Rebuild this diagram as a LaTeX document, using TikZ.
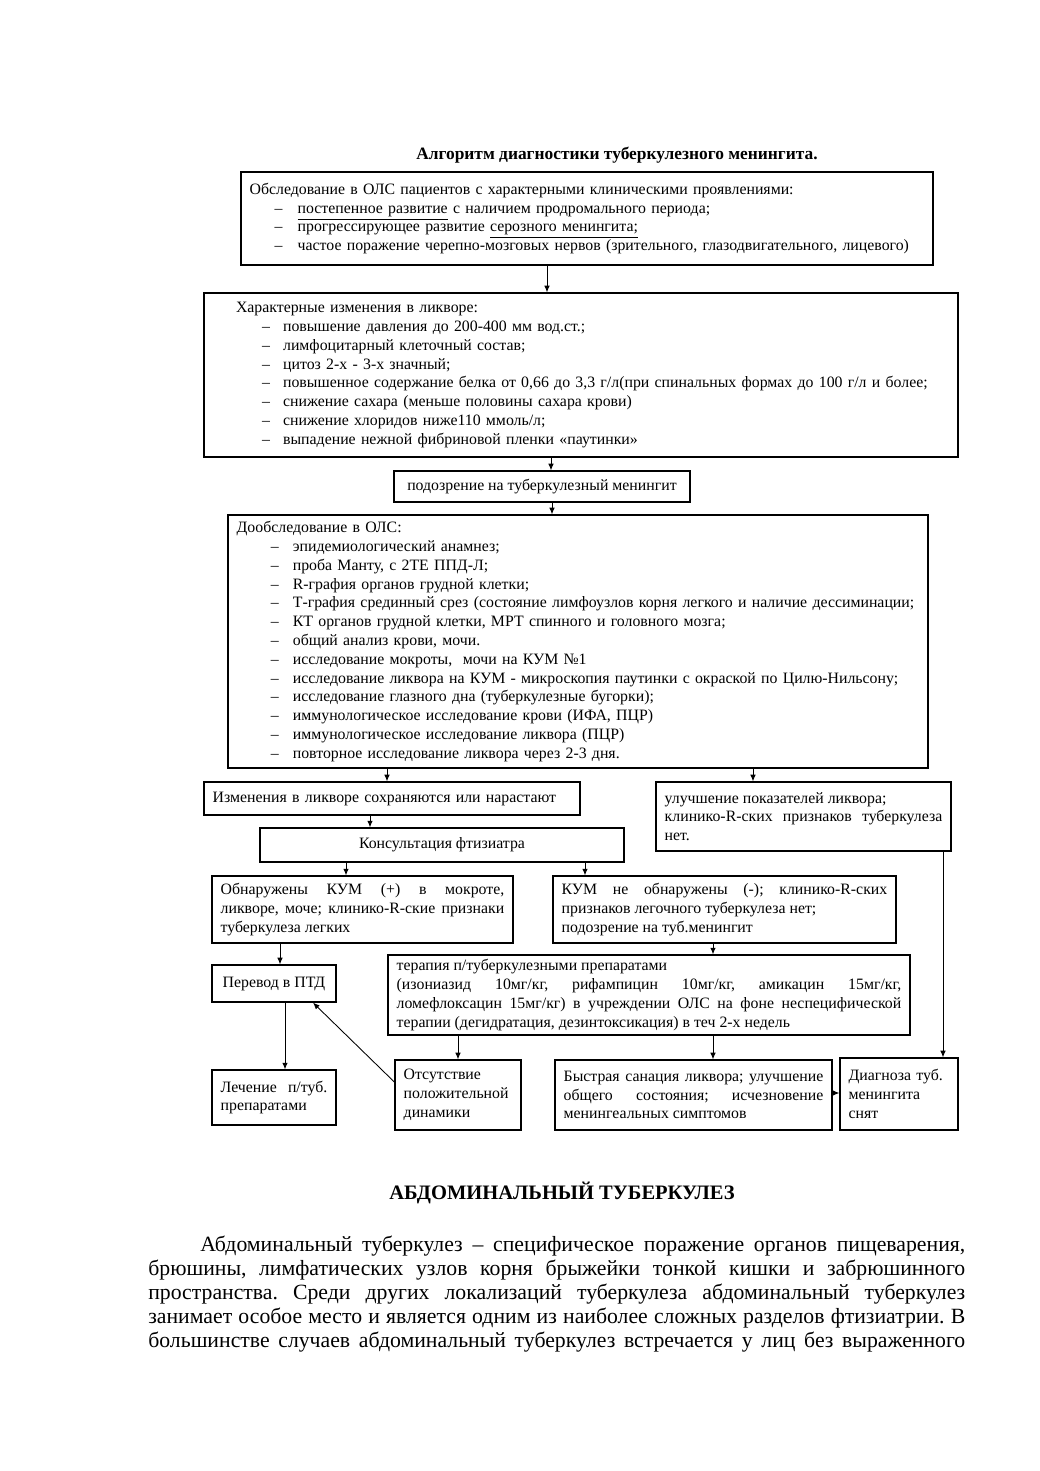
\documentclass[tikz,border=0pt]{standalone}
\usepackage{fontspec}
\setmainfont{Liberation Serif}
\usepackage{tikz}
\usetikzlibrary{arrows.meta}
\hyphenpenalty=10000
\exhyphenpenalty=10000
\frenchspacing
\newcommand\boxfont{\fontsize{9.1}{10.8}\selectfont}
\newlength\dashin
\newlength\dashw
\newcommand\dashrow[1]{\\\hspace*{\dashin}\makebox[\dashw][l]{–}#1}

\begin{document}
\begin{tikzpicture}[x=0.57508pt, y=-0.57508pt, >={Latex[length=3.8pt,width=3.2pt]},
  box/.style={draw, line width=0.75pt, inner xsep=5pt, inner ysep=0pt, font=\boxfont},
  arr/.style={->, line width=0.5pt}]
  \useasboundingbox (0,0) rectangle (1039,1471);
  \node[font=\fontsize{10}{12}\selectfont\bfseries] (title) at (617,155) {Алгоритм диагностики туберкулезного менингита.};
  \node[box, minimum width=397.95pt, minimum height=53.48pt, text width=387.95pt, align=left] (obsl) at (587,218.5)
    {\setlength\dashin{14.4pt}\setlength\dashw{13.2pt}Обследование в ОЛС пациентов с характерными клиническими проявлениями:
    \dashrow{\underline{постепенное развитие} с наличием продромального периода;}
    \dashrow{прогрессирующее развитие \underline{серозного менингита;}}
    \dashrow{частое поражение черепно-мозговых нервов (зрительного, глазодвигательного, лицевого)}};
  \node[box, minimum width=433.61pt, minimum height=94.31pt, text width=423.6pt, align=left] (likvor) at (581,375)
    {\setlength\dashin{28.4pt}\setlength\dashw{12.1pt}\hspace*{13.4pt}Характерные изменения в ликворе:
    \dashrow{повышение давления до 200-400 мм вод.ст.;}
    \dashrow{лимфоцитарный клеточный состав;}
    \dashrow{цитоз 2-х - 3-х значный;}
    \dashrow{повышенное содержание белка от 0,66 до 3,3 г/л(при спинальных формах до 100 г/л и более;}
    \dashrow{снижение сахара (меньше половины сахара крови)}
    \dashrow{снижение хлоридов ниже110 ммоль/л;}
    \dashrow{выпадение нежной фибриновой пленки «паутинки»}};
  \node[box, minimum width=170.22pt, minimum height=17.83pt] (podozr) at (542,486.5) {подозрение на туберкулезный менингит};
  \node[box, minimum width=402.56pt, minimum height=145.5pt, text width=392.56pt, align=left] (doobsl) at (578,641.5)
    {\setlength\dashin{19.6pt}\setlength\dashw{12.7pt}Дообследование в ОЛС:
    \dashrow{эпидемиологический анамнез;}
    \dashrow{проба Манту, с 2ТЕ ППД-Л;}
    \dashrow{R-графия органов грудной клетки;}
    \dashrow{Т-графия срединный срез (состояние лимфоузлов корня легкого и наличие дессиминации;}
    \dashrow{КТ органов грудной клетки, МРТ спинного и головного мозга;}
    \dashrow{общий анализ крови, мочи.}
    \dashrow{исследование мокроты,\ \ мочи на КУМ №1}
    \dashrow{исследование ликвора на КУМ - микроскопия паутинки с окраской по Цилю-Нильсону;}
    \dashrow{исследование глазного дна (туберкулезные бугорки);}
    \dashrow{иммунологическое исследование крови (ИФА, ПЦР)}
    \dashrow{иммунологическое исследование ликвора (ПЦР)}
    \dashrow{повторное исследование ликвора через 2-3 дня.}};
  \node[box, minimum width=216.23pt, minimum height=18.98pt, text width=206.23pt, align=left] (izmen) at (392,798.5)
    {Изменения в ликворе сохраняются или нарастают};
  \node[box, minimum width=169.65pt, minimum height=39.68pt, text width=159.65pt, align=justify] (uluch) at (803.5,816.5)
    {улучшение показателей ликвора;\newline клинико-R-ских признаков туберкулеза\linebreak нет.};
  \node[box, minimum width=209.33pt, minimum height=19.55pt] (konsult) at (442,845) {Консультация фтизиатра};
  \node[box, minimum width=173.1pt, minimum height=38.53pt, text width=163.1pt, align=justify] (kumplus) at (362.5,909.5)
    {Обнаружены КУМ (+) в мокроте,\linebreak ликворе, моче; клинико-R-ские признаки\linebreak туберкулеза легких};
  \node[box, minimum width=197.25pt, minimum height=38.53pt, text width=187.25pt, align=justify] (kumminus) at (724.5,909.5)
    {КУМ не обнаружены (-); клинико-R-ских\linebreak признаков легочного туберкулеза нет;\newline подозрение на туб.менингит};
  \node[box, minimum width=71.31pt, minimum height=21.28pt] (perevod) at (274,983.5) {Перевод в ПТД};
  \node[box, minimum width=300.19pt, minimum height=46pt, text width=290.19pt, align=justify] (terapia) at (649,995)
    {терапия п/туберкулезными препаратами\newline (изониазид 10мг/кг, рифампицин 10мг/кг, амикацин 15мг/кг,\linebreak ломефлоксацин 15мг/кг) в учреждении ОЛС на фоне неспецифической\linebreak терапии (дегидратация, дезинтоксикация) в теч 2-х недель};
  \node[box, minimum width=71.31pt, minimum height=31.63pt, text width=61.31pt, align=justify] (lechenie) at (274,1097.5)
    {Лечение п/туб.\linebreak препаратами};
  \node[box, minimum width=72.46pt, minimum height=40.26pt, text width=62.46pt, align=left] (otsut) at (458,1095)
    {Отсутствие\\ положительной\\ динамики};
  \node[box, minimum width=159.3pt, minimum height=40.26pt, text width=149.3pt, align=justify] (sanacia) at (693.5,1095)
    {Быстрая санация ликвора; улучшение\linebreak общего состояния; исчезновение\linebreak менингеальных симптомов};
  \node[box, minimum width=67.86pt, minimum height=41.41pt, text width=57.86pt, align=left] (snyat) at (899,1094)
    {Диагноза туб.\\ менингита\\ снят};
  \draw[arr] (547,0 |- obsl.south) -- (547,0 |- likvor.north);
  \draw[arr] (551,0 |- likvor.south) -- (551,0 |- podozr.north);
  \draw[arr] (552,0 |- podozr.south) -- (552,0 |- doobsl.north);
  \draw[arr] (387,0 |- doobsl.south) -- (387,0 |- izmen.north);
  \draw[arr] (753,0 |- doobsl.south) -- (753,0 |- uluch.north);
  \draw[arr] (370,0 |- izmen.south) -- (370,0 |- konsult.north);
  \draw[arr] (346,0 |- konsult.south) -- (346,0 |- kumplus.north);
  \draw[arr] (585,0 |- konsult.south) -- (585,0 |- kumminus.north);
  \draw[arr] (280,0 |- kumplus.south) -- (280,0 |- perevod.north);
  \draw[arr] (713,0 |- kumminus.south) -- (713,0 |- terapia.north);
  \draw[arr] (285,0 |- perevod.south) -- (285,0 |- lechenie.north);
  \draw[arr] (458,0 |- terapia.south) -- (458,0 |- otsut.north);
  \draw[arr] (713,0 |- terapia.south) -- (713,0 |- sanacia.north);
  \draw[arr] (943,0 |- uluch.south) -- (943,0 |- snyat.north);
  \draw[arr] (sanacia.east |- 0,1093) -- (snyat.west |- 0,1093);
  \draw[arr] (otsut.west |- 0,1082) -- (313,0 |- perevod.south);
  \node[font=\fontsize{11.8}{13}\selectfont\bfseries] (abdhead) at (562,1193) {АБДОМИНАЛЬНЫЙ ТУБЕРКУЛЕЗ};
  \node[anchor=north west, inner sep=0pt, text width=469.8pt, align=justify, font=\fontsize{12.5}{13.8}\selectfont] (abdtext) at (148,1236)
    {\parfillskip=0pt\hspace*{29.9pt}Абдоминальный туберкулез – специфическое поражение органов пищеварения,\linebreak
    брюшины, лимфатических узлов корня брыжейки тонкой кишки и забрюшинного\linebreak
    пространства. Среди других локализаций туберкулеза абдоминальный туберкулез\linebreak
    занимает особое место и является одним из наиболее сложных разделов фтизиатрии. В\linebreak
    большинстве случаев абдоминальный туберкулез встречается у лиц без выраженного\par};
\end{tikzpicture}
\end{document}
